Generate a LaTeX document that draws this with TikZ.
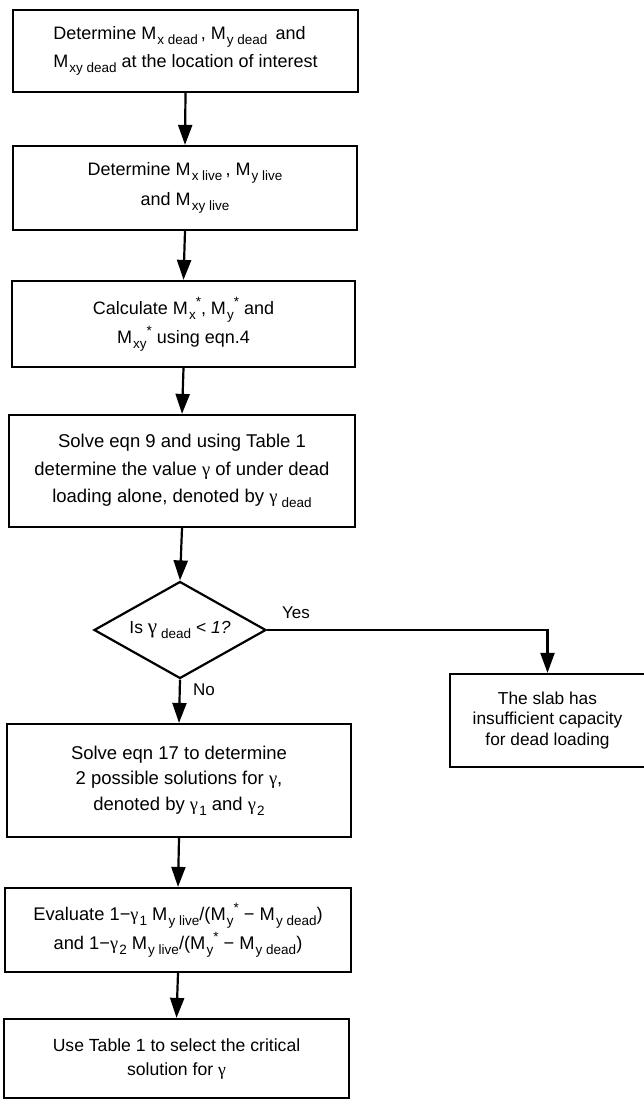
\documentclass[tikz,border=0pt]{standalone}
\usepackage{fontspec}
\setmainfont{Liberation Sans}
\newfontfamily\grk{Liberation Serif}
\usetikzlibrary{arrows.meta,shapes.geometric}
\newcommand\mysub[1]{\kern0.06em\raisebox{-0.27em}{\fontsize{13.5}{13.5}\selectfont #1}}
\newcommand\mysup[1]{\raisebox{0.45em}{\fontsize{13.5}{13.5}\selectfont #1}}
\newcommand\gam{{\grk γ}}
\begin{document}
\begin{tikzpicture}[x=1pt,y=-1pt,
  box/.style={draw, line width=2.2pt, inner sep=0pt, align=center},
  arr/.style={line width=2.2pt, -{Triangle[length=20pt,width=14pt]}},
  lbl/.style={font=\fontsize{17}{17}\selectfont, inner sep=0pt}]
\useasboundingbox[fill=white] (0,0) rectangle (644,1099);

\node[box, align=left, minimum width=345pt, minimum height=82pt, font=\fontsize{18}{28}\selectfont] (b1) at (185.5,51)
  {Determine M\mysub{x dead}\,, M\mysub{y dead}\, and\\M\mysub{xy dead} at the location of interest};
\node[box, minimum width=344pt, minimum height=84pt, font=\fontsize{18}{30}\selectfont] (b2) at (185,188)
  {Determine M\mysub{x live}\,, M\mysub{y live}\\and M\mysub{xy live}};
\node[box, minimum width=343pt, minimum height=86pt, font=\fontsize{18}{29}\selectfont] (b3) at (183.5,324)
  {Calculate M\mysub{x}\mysup{*}, M\mysub{y}\mysup{*} and\\M\mysub{xy}\mysup{*} using eqn.4};
\node[box, minimum width=346pt, minimum height=112pt, font=\fontsize{18.5}{27.5}\selectfont] (b4) at (182,471)
  {Solve eqn 9 and using Table 1\\determine the value \gam\ of under dead\\loading alone, denoted by \gam\,\mysub{dead}};
\node[draw, shape=diamond, line width=2.2pt, aspect=1.77, inner sep=0pt, minimum width=172pt, minimum height=97pt, font=\fontsize{17.5}{20}\selectfont] (d) at (180,630)
  {Is {\fontsize{21}{21}\selectfont\gam}\,\mysub{dead} < \textit{1?}};
\node[box, minimum width=195pt, minimum height=93pt, font=\fontsize{17.3}{20.5}\selectfont] (r) at (547.5,720.5)
  {The slab has\\insufficient capacity\\for dead loading};
\node[box, minimum width=344pt, minimum height=113pt, font=\fontsize{18.5}{25.5}\selectfont] (b5) at (179,780.5)
  {Solve eqn 17 to determine\\2 possible solutions for \gam,\\denoted by \gam\mysub{1} and \gam\mysub{2}};
\node[box, minimum width=346pt, minimum height=84pt, font=\fontsize{18.3}{29}\selectfont] (b6) at (178,930)
  {Evaluate 1−\gam\mysub{1} M\mysub{y live}/(M\mysub{y}\mysup{*} − M\mysub{y dead})\\and 1−\gam\mysub{2} M\mysub{y live}/(M\mysub{y}\mysup{*} − M\mysub{y dead})};
\node[box, minimum width=345pt, minimum height=79pt, font=\fontsize{17.6}{24}\selectfont] (b7) at (176.5,1058.5)
  {Use Table 1 to select the critical\\solution for \gam};

\node[lbl] (yes) at (296,613) {Yes};
\node[lbl] (no) at (204,690) {No};

\draw[arr] (b1.south) -- (b2.north);
\draw[arr] (b2.south) -- (b3.north);
\draw[arr] (b3.south) -- (b4.north);
\draw[arr] (b4.south) -- (d.north);
\draw[arr] (d.south) -- (b5.north);
\draw[arr] (d.east) -| (r.north);
\draw[arr] (b5.south) -- (b6.north);
\draw[arr] (b6.south) -- (b7.north);
\end{tikzpicture}
\end{document}
